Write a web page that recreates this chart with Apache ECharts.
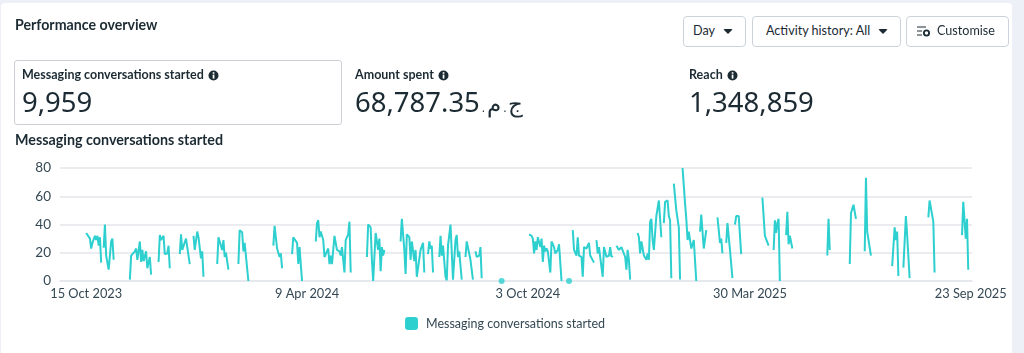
<!DOCTYPE html>
<html>
<head>
<meta charset="utf-8">
<style>
html,body{margin:0;padding:0;width:1024px;height:353px;overflow:hidden;background:#eef0f8;font-family:Lato,"Noto Sans",sans-serif;color:#1c2b33}
#card{position:absolute;left:1px;top:3px;width:1011px;height:350px;background:#fff;border-radius:4px 4px 0 0}
#main{position:absolute;left:0;top:0;width:1024px;height:353px}
.t{position:absolute;white-space:nowrap;line-height:1}
.h{font-weight:700;font-size:14.2px}
.l{font-weight:700;font-size:12.5px;top:69px}
.v{font-family:"Noto Sans",sans-serif;font-size:27.5px;top:88px;font-weight:400}
.ar{font-family:"DejaVu Sans",sans-serif;font-size:23px;font-weight:300;unicode-bidi:isolate}
.btn{position:absolute;top:16px;height:29px;border:1px solid #cbd2d9;border-radius:4px;background:#fff;box-sizing:content-box}
.btn span{position:absolute;top:8px;font-size:12.6px;line-height:1;white-space:nowrap}
.car{position:absolute;top:12px;width:0;height:0;border-left:5px solid transparent;border-right:5px solid transparent;border-top:5.5px solid #1c2b33;border-radius:2px}
.box{position:absolute;left:14px;top:60px;width:326px;height:63px;border:1px solid #ccd0d5;border-radius:3px;background:#fff}
svg.i{vertical-align:-1.5px;margin-left:1px}
</style>
</head>
<body>
<div id="card"></div>
<div class="box"></div>
<div id="main"></div>
<div class="t h" style="left:15px;top:18px">Performance overview</div>
<div class="btn" style="left:683px;width:61px"><span style="left:9px">Day</span><i class="car" style="left:39px"></i></div>
<div class="btn" style="left:752px;width:147px"><span style="left:13px">Activity history: All</span><i class="car" style="left:125px"></i></div>
<div class="btn" style="left:906px;width:101px">
<svg style="position:absolute;left:10px;top:8px" width="14" height="13" viewBox="0 0 14 13"><path d="M0 2h9M0 6h5M0 10h5" stroke="#1c2b33" stroke-width="1" fill="none"/><circle cx="9.5" cy="8" r="2.6" fill="none" stroke="#1c2b33" stroke-width="1.8"/></svg>
<span style="left:30px">Customise</span></div>
<div class="t l" style="left:22px">Messaging conversations started <svg class="i" width="11" height="11" viewBox="0 0 11 11"><circle cx="5.5" cy="5.5" r="5" fill="#1c2b33"/><rect x="4.7" y="4.6" width="1.7" height="4" fill="#fff"/><rect x="4.7" y="2.2" width="1.7" height="1.6" fill="#fff"/></svg></div>
<div class="t l" style="left:355px">Amount spent <svg class="i" width="11" height="11" viewBox="0 0 11 11"><circle cx="5.5" cy="5.5" r="5" fill="#1c2b33"/><rect x="4.7" y="4.6" width="1.7" height="4" fill="#fff"/><rect x="4.7" y="2.2" width="1.7" height="1.6" fill="#fff"/></svg></div>
<div class="t l" style="left:689px">Reach <svg class="i" width="11" height="11" viewBox="0 0 11 11"><circle cx="5.5" cy="5.5" r="5" fill="#1c2b33"/><rect x="4.7" y="4.6" width="1.7" height="4" fill="#fff"/><rect x="4.7" y="2.2" width="1.7" height="1.6" fill="#fff"/></svg></div>
<div class="t v" style="left:22px">9,959</div>
<div class="t v" style="left:355px">68,787.35<span class="ar" dir="rtl">ج.م.</span></div>
<div class="t v" style="left:689px">1,348,859</div>
<script src="https://cdn.jsdelivr.net/npm/echarts@6/dist/echarts.min.js"></script>
<script>
const tickDays = [0, 177, 354, 532, 709];
const tickLabels = ['15 Oct 2023', '9 Apr 2024', '3 Oct 2024', '30 Mar 2025', '23 Sep 2025'];
const seriesName = 'Messaging conversations started';
const dotDays = [333, 387];
const dotValues = [0, 0];
const days = [
0,1,3,4,5,7,8,9,10,11,12,null,14,15,16,17,18,20,21,22,null,
35,36,37,39,40,41,43,44,45,46,48,49,51,52,null,58,59,60,62,63,65,66,67,null,
75,76,77,80,81,83,null,86,87,88,89,90,92,93,94,null,105,106,107,109,110,111,112,114,null,
122,123,125,126,127,128,130,null,150,151,153,155,156,157,null,165,166,169,170,171,173,null,
184,185,186,187,188,190,191,192,194,195,196,197,199,201,203,204,205,207,208,210,211,212,null,
225,226,228,229,230,232,233,234,235,236,237,238,239,null,
252,253,254,255,256,257,259,260,261,263,264,265,268,270,271,null,274,275,276,277,278,null,
283,284,285,286,288,289,290,291,292,294,296,297,298,299,301,null,304,305,308,310,null,312,313,315,316,317,null,
355,357,358,359,360,361,362,363,364,365,366,367,368,369,370,372,373,375,376,378,379,381,null,
390,391,393,394,395,397,398,399,401,403,404,405,407,null,409,410,411,414,415,417,419,420,421,422,null,
425,426,427,429,430,432,433,434,435,436,null,
442,443,444,445,446,447,449,450,451,452,453,454,455,457,459,460,461,null,463,464,466,467,468,469,null,
471,473,475,476,null,478,480,481,482,483,485,487,489,null,492,493,495,497,null,506,508,509,510,null,
513,514,515,516,518,null,520,521,523,525,null,542,544,545,547,null,551,552,553,554,555,556,null,
561,562,563,564,566,null,594,595,596,null,612,613,615,616,617,null,624,625,626,629,null,
646,648,649,650,651,null,655,657,658,659,660,null,675,676,677,679,680,null,702,703,704,705,706,707
];
const conversations = [
34,35,30,23,27,32,29,32,25,31,13,null,23.5,40,18,17,8,28,30,15,null,
1,18,17,21,23,15,28,13.5,22,14,21,9,17,4.5,null,13.5,32.5,29,32,19,19.5,25,9,null,
19,33,22,30,24,12,null,32,22,22,35,31,16,21,3,null,12,31,32,22,29,17,20,8,null,
12,36,34.5,21,27,26,0,null,25,39,23,17,19.5,9,null,19,31,27,12,24,0,null,
28,41,43,31,35,29,17,17,23,12,18,12,32,22,21,18,24,6,29,33,42,6,null,
17,40,38,15,0,34,33,22,30,7,24,18,22,null,
28,44,33,22,5,33,31,15,28,14,22,3,22,27,6,null,19,28,23,25,6,null,
17,32,18,25,3,0.5,25,32.5,40,1,29,32.5,17,21,1,null,17,28,15,1,null,21,17,18,24,2,null,
33,32,30,19.5,28,22,31,32,24,30,13.5,25,21,23,21,6,28,24,19.5,22,26,0,null,
36,22,18,31,18,17,3,24,23,27,18,17,13,null,29,19.5,24,3,24,17,18,24,17,18,null,
25,26,22,24,23,17,8,22,15,1,null,
34,31,19.5,28,23,18,15,19.5,15,42,44,29,22,46,57,58,31,null,41,56,57,46,43,2,null,
69,50,38,1,null,80,55,44,29,35,23,29,0,null,35,47,23,36,null,45,27,30,19.5,null,
27,41,42,22,2,null,40,46,46,19,null,59,32,31,25,null,22,43,34,41,44,0,null,
32.5,49,26,32,23,null,18,44,22,null,12,48,54,54,44,null,21,73,35,18,null,
10.5,38,29,35,3.5,null,9.5,46,33,34,2,null,45,57,58,42,6,null,32.5,56,55,30,44,8
];
const teal = '#2dcfcf';
const axisColor = '#e4e6eb';
const textColor = '#344854';
const chart = echarts.init(document.getElementById('main'), null, {renderer: 'canvas'});
chart.setOption({
  animation: false,
  backgroundColor: 'transparent',
  textStyle: {fontFamily: 'Lato, "Noto Sans", sans-serif'},
  title: {text: seriesName, left: 15, top: 133, padding: 0,
    textStyle: {fontSize: 14.3, fontWeight: 700, color: '#1c2b33', fontFamily: 'Lato, "Noto Sans", sans-serif', lineHeight: 14}},
  legend: {data: [{name: seriesName, icon: 'roundRect'}], left: 405, top: 317, padding: 0, itemWidth: 13, itemHeight: 13, itemGap: 8,
    textStyle: {fontSize: 12.5, color: textColor, padding: [0, 0, 0, 3], fontFamily: 'Lato, "Noto Sans", sans-serif'}},
  grid: {left: 60, right: 52, top: 168, bottom: 72},
  xAxis: {type: 'value', min: -21, max: 710, splitLine: {show: false},
    axisLine: {show: true, lineStyle: {color: axisColor, width: 1.5}},
    axisTick: {show: false},
    axisLabel: {customValues: tickDays, margin: 6, fontSize: 12.8, color: textColor, fontFamily: 'Lato, "Noto Sans", sans-serif',
      formatter: v => tickLabels[tickDays.indexOf(v)] || ''}},
  yAxis: {type: 'value', min: 0, max: 80, interval: 20,
    splitLine: {lineStyle: {color: axisColor, width: 1.5}},
    axisLine: {show: false}, axisTick: {show: false},
    axisLabel: {margin: 9, fontSize: 13.5, color: textColor, fontFamily: 'Lato, "Noto Sans", sans-serif'}},
  series: [
    {name: seriesName, type: 'line', showSymbol: false, connectNulls: false, smooth: false,
      lineStyle: {color: teal, width: 2}, itemStyle: {color: teal},
      data: days.map((d, i) => d === null ? [null, null] : [d, conversations[i]])},
    {name: seriesName, type: 'scatter', symbolSize: 6, itemStyle: {color: teal}, clip: false,
      data: dotDays.map((d, i) => [d, dotValues[i]])}
  ]
});
</script>
</body>
</html>
